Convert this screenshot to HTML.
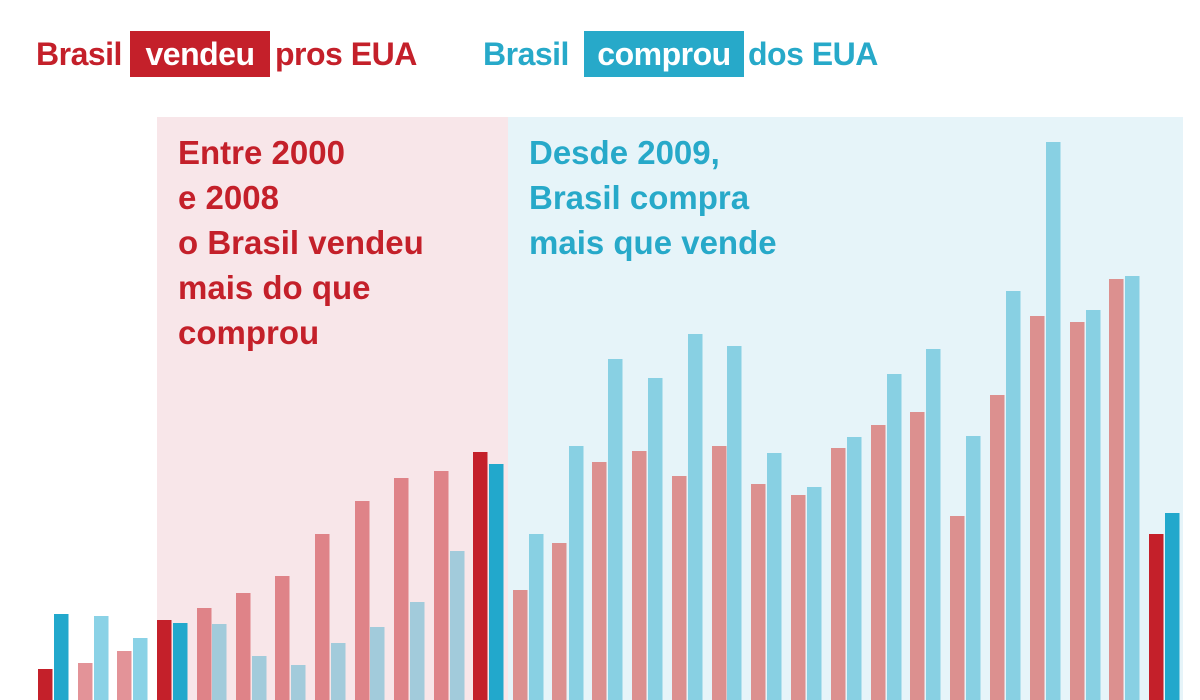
<!DOCTYPE html>
<html><head><meta charset="utf-8"><style>
body{margin:0;width:1200px;height:700px;overflow:hidden;background:#fff;font-family:"Liberation Sans",sans-serif;font-weight:bold;position:relative}
.t{position:absolute;top:31px;height:46px;line-height:46px;font-size:32px;letter-spacing:-0.5px;white-space:nowrap}
.box{color:#fff;text-align:center}
.n{position:absolute;font-size:33px;line-height:45px;letter-spacing:0px;white-space:nowrap}
</style></head><body>
<svg width="1200" height="700" style="position:absolute;left:0;top:0">
<rect x="157" y="117" width="351" height="583" fill="#f8e6e9"/>
<rect x="508" y="117" width="675" height="583" fill="#e6f4f9"/>
<g>
<rect x="38" y="669" width="14.5" height="31" fill="#c4202a"/><rect x="54" y="614" width="14.5" height="86" fill="#22a8cc"/>
<rect x="78" y="663" width="14.5" height="37" fill="#e39398"/><rect x="94" y="616" width="14.5" height="84" fill="#8ad2e6"/>
<rect x="117" y="651" width="14.5" height="49" fill="#e39398"/><rect x="133" y="638" width="14.5" height="62" fill="#8ad2e6"/>
<rect x="157" y="620" width="14.5" height="80" fill="#c4202a"/><rect x="173" y="623" width="14.5" height="77" fill="#22a8cc"/>
<rect x="197" y="608" width="14.5" height="92" fill="#df8388"/><rect x="212" y="624" width="14.5" height="76" fill="#a2cbdb"/>
<rect x="236" y="593" width="14.5" height="107" fill="#df8388"/><rect x="252" y="656" width="14.5" height="44" fill="#a2cbdb"/>
<rect x="275" y="576" width="14.5" height="124" fill="#df8388"/><rect x="291" y="665" width="14.5" height="35" fill="#a2cbdb"/>
<rect x="315" y="534" width="14.5" height="166" fill="#df8388"/><rect x="331" y="643" width="14.5" height="57" fill="#a2cbdb"/>
<rect x="355" y="501" width="14.5" height="199" fill="#df8388"/><rect x="370" y="627" width="14.5" height="73" fill="#a2cbdb"/>
<rect x="394" y="478" width="14.5" height="222" fill="#df8388"/><rect x="410" y="602" width="14.5" height="98" fill="#a2cbdb"/>
<rect x="434" y="471" width="14.5" height="229" fill="#df8388"/><rect x="450" y="551" width="14.5" height="149" fill="#a2cbdb"/>
<rect x="473" y="452" width="14.5" height="248" fill="#c4202a"/><rect x="489" y="464" width="14.5" height="236" fill="#22a8cc"/>
</g>
<g fill="#dc908f">
<rect x="513" y="590" width="14.5" height="110"/><rect x="552" y="543" width="14.5" height="157"/>
<rect x="592" y="462" width="14.5" height="238"/><rect x="632" y="451" width="14.5" height="249"/>
<rect x="672" y="476" width="14.5" height="224"/><rect x="712" y="446" width="14.5" height="254"/>
<rect x="751" y="484" width="14.5" height="216"/><rect x="791" y="495" width="14.5" height="205"/>
<rect x="831" y="448" width="14.5" height="252"/><rect x="871" y="425" width="14.5" height="275"/>
<rect x="910" y="412" width="14.5" height="288"/><rect x="950" y="516" width="14.5" height="184"/>
<rect x="990" y="395" width="14.5" height="305"/><rect x="1030" y="316" width="14.5" height="384"/>
<rect x="1070" y="322" width="14.5" height="378"/><rect x="1109" y="279" width="14.5" height="421"/>
</g>
<g fill="#88d0e3">
<rect x="529" y="534" width="14.5" height="166"/><rect x="569" y="446" width="14.5" height="254"/>
<rect x="608" y="359" width="14.5" height="341"/><rect x="648" y="378" width="14.5" height="322"/>
<rect x="688" y="334" width="14.5" height="366"/><rect x="727" y="346" width="14.5" height="354"/>
<rect x="767" y="453" width="14.5" height="247"/><rect x="807" y="487" width="14.5" height="213"/>
<rect x="847" y="437" width="14.5" height="263"/><rect x="887" y="374" width="14.5" height="326"/>
<rect x="926" y="349" width="14.5" height="351"/><rect x="966" y="436" width="14.5" height="264"/>
<rect x="1006" y="291" width="14.5" height="409"/><rect x="1046" y="142" width="14.5" height="558"/>
<rect x="1086" y="310" width="14.5" height="390"/><rect x="1125" y="276" width="14.5" height="424"/>
</g>
<rect x="1149" y="534" width="14.5" height="166" fill="#c4202a"/><rect x="1165" y="513" width="14.5" height="187" fill="#22a8cc"/>
</svg>
<div class="t" style="left:36px;color:#c4202a">Brasil</div>
<div class="t box" style="left:130px;width:140px;background:#c4202a">vendeu</div>
<div class="t" style="left:275px;color:#c4202a">pros EUA</div>
<div class="t" style="left:483px;color:#27a9c9">Brasil</div>
<div class="t box" style="left:584px;width:160px;background:#27a9c9">comprou</div>
<div class="t" style="left:748px;color:#27a9c9">dos EUA</div>
<div class="n" style="left:178px;top:130px;color:#c4202a">Entre 2000<br>e 2008<br>o Brasil vendeu<br>mais do que<br>comprou</div>
<div class="n" style="left:529px;top:130px;color:#27a9c9">Desde 2009,<br>Brasil compra<br>mais que vende</div>
</body></html>
